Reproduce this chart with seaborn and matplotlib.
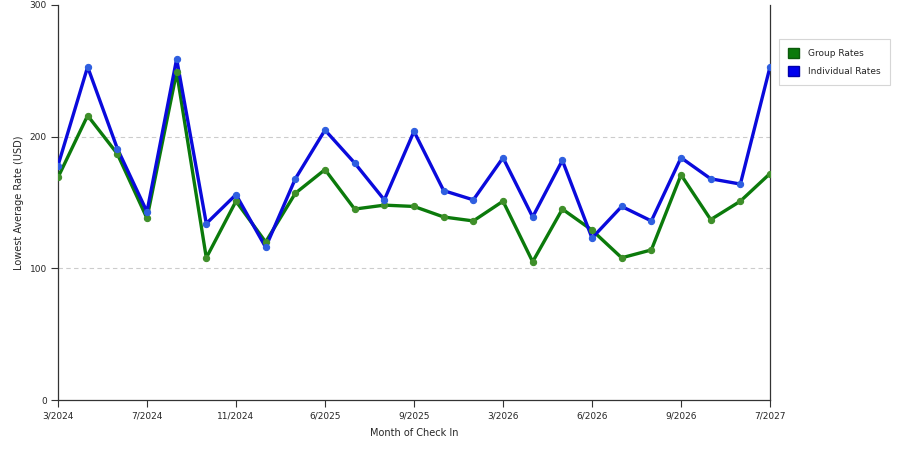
import matplotlib
matplotlib.use("Agg")
import matplotlib.pyplot as plt
import matplotlib.patches as mpatches
import seaborn as sns
import pandas as pd

months = ["3/2024", "4/2024", "5/2024", "7/2024", "8/2024", "9/2024", "11/2024",
          "12/2024", "3/2025", "6/2025", "7/2025", "8/2025", "9/2025", "10/2025",
          "12/2025", "3/2026", "4/2026", "5/2026", "6/2026", "7/2026", "8/2026",
          "9/2026", "12/2026", "3/2027", "7/2027"]
group_rates = [169, 216, 187, 138, 249, 108, 151, 120, 157, 175, 145, 148, 147,
               139, 136, 151, 105, 145, 129, 108, 114, 171, 137, 151, 172]
individual_rates = [178, 253, 191, 143, 259, 134, 156, 116, 168, 205, 180, 152, 204,
                    159, 152, 184, 139, 182, 123, 147, 136, 184, 168, 164, 253]
tick_labels = ["3/2024", "7/2024", "11/2024", "6/2025", "9/2025",
               "3/2026", "6/2026", "9/2026", "7/2027"]

df = pd.DataFrame({
    "idx": list(range(len(months))) * 2,
    "month": months * 2,
    "rate": group_rates + individual_rates,
    "series": ["Group Rates"] * len(months) + ["Individual Rates"] * len(months),
})

sns.set_style("white")
plt.rcParams["font.family"] = ["DejaVu Sans"]

fig = plt.figure(figsize=(9, 4.5), dpi=100)
ax = fig.add_axes([0.0644, 0.111, 0.7912, 0.878])

line_colors = {"Group Rates": "#0b7a0b", "Individual Rates": "#0a0adc"}
marker_colors = {"Group Rates": "#3f8f2a", "Individual Rates": "#2f5fe0"}

for name in ["Group Rates", "Individual Rates"]:
    sub = df[df["series"] == name]
    sns.lineplot(data=sub, x="idx", y="rate", ax=ax, color=line_colors[name],
                 linewidth=2.4, sort=False, legend=False, zorder=3)
    sns.scatterplot(data=sub, x="idx", y="rate", ax=ax, color=marker_colors[name],
                    s=20, edgecolor=marker_colors[name], linewidth=0.8,
                    legend=False, zorder=4)

ax.set_xlim(0, len(months) - 1)
ax.set_ylim(0, 300)
ax.set_xticks(range(0, len(months), 3))
ax.set_xticklabels(tick_labels, fontsize=6.5)
ax.set_yticks([0, 100, 200, 300])
ax.set_yticklabels(["0", "100", "200", "300"], fontsize=6.5)
ax.tick_params(axis="both", direction="out", length=5, width=0.8, color="#333333",
               pad=3, left=True, bottom=True)

for y in [100, 200]:
    ax.axhline(y, color="#cccccc", linestyle=(0, (4, 3)), linewidth=0.8, zorder=1)

ax.spines["top"].set_visible(False)
for s in ["left", "bottom", "right"]:
    ax.spines[s].set_color("#333333")
    ax.spines[s].set_linewidth(0.9)

ax.set_xlabel("Month of Check In", fontsize=7, labelpad=6)
ax.set_ylabel("Lowest Average Rate (USD)", fontsize=7, labelpad=4)

handles = [mpatches.Patch(facecolor="#0b7a0b", edgecolor="#0b5a0b", label="Group Rates"),
           mpatches.Patch(facecolor="#0000ee", edgecolor="#0000aa", label="Individual Rates")]
leg = fig.legend(handles=handles, loc="upper left", bbox_to_anchor=(0.8656, 0.9133),
                 borderaxespad=0, fontsize=6.5, frameon=True, fancybox=False,
                 handlelength=1.2, handleheight=1.4, handletextpad=1.0,
                 borderpad=1.0, labelspacing=0.8)
leg.get_frame().set_edgecolor("#cccccc")
leg.get_frame().set_linewidth(0.8)

fig.savefig("out.png", dpi=100)
